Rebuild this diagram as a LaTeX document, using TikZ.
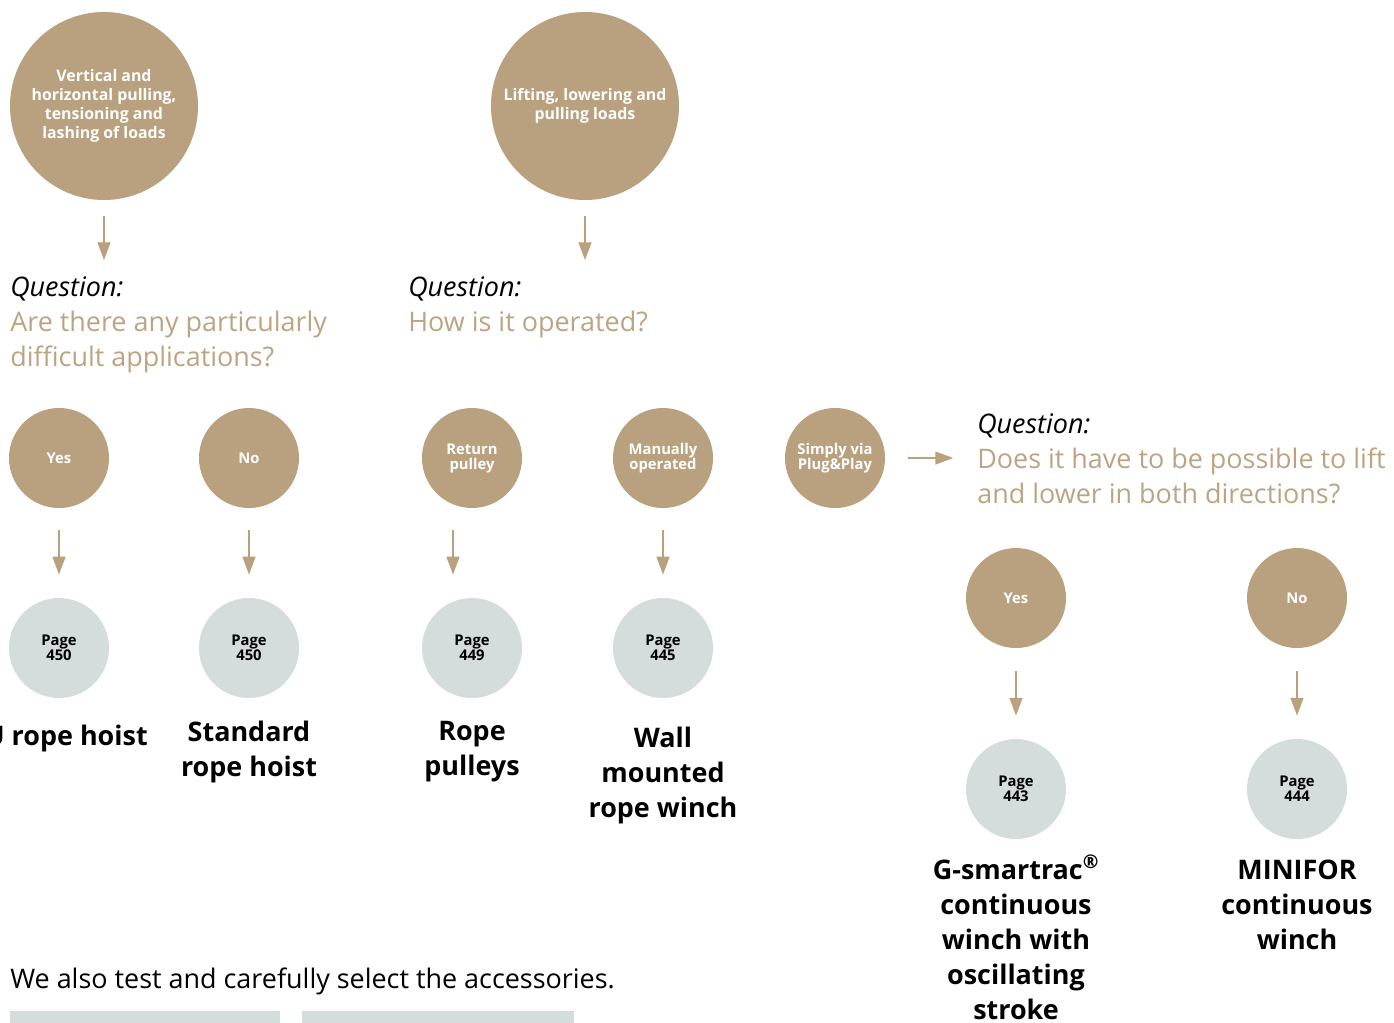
\documentclass[tikz,border=0pt]{standalone}
\usepackage{fontspec}
\setmainfont{Open Sans}
\usetikzlibrary{arrows.meta,positioning,calc}
\definecolor{tan}{HTML}{B9A07E}
\definecolor{qtan}{HTML}{BCA482}
\definecolor{pagegrey}{HTML}{D4DDDC}

\tikzset{
  topic/.style={circle, fill=tan, inner sep=0pt, minimum size=141pt, text=white, align=center,
    font=\bfseries\fontsize{11.9}{14.25}\selectfont},
  choice/.style={circle, fill=tan, inner sep=0pt, minimum size=75pt, text=white, align=center,
    font=\bfseries\fontsize{11.1}{11.25}\selectfont},
  pageref/.style={circle, fill=pagegrey, inner sep=0pt, minimum size=75pt, text=black, align=center,
    font=\bfseries\fontsize{11.1}{11.25}\selectfont},
  question/.style={anchor=base west, align=left, inner sep=0pt, text=qtan,
    font=\fontsize{20.2}{26.25}\selectfont},
  product/.style={anchor=base, align=center, inner sep=0pt, text=black,
    font=\bfseries\fontsize{20.2}{26.25}\selectfont},
  arr/.style={draw=tan, line width=1.8pt, -{Triangle[length=13.5pt,width=9.5pt]}}
}

\begin{document}
\begin{tikzpicture}[x=0.75pt, y=-0.75pt]
\useasboundingbox (0,0) rectangle (1394,1022);

% starting points
\node[topic] (pull) at (104,106) {Vertical and\\horizontal pulling,\\tensioning and\\lashing of loads};
\node[topic] (lift) at (585,106) {Lifting, lowering and\\pulling loads};

% base = last line
\node[question] (q1) at (10,366) {\textcolor{black}{\textit{Question:}}\\Are there any particularly\\difficult applications?};
\node[question] (q2) at (408,331) {\textcolor{black}{\textit{Question:}}\\How is it operated?};
\draw[arr] ($(pull.south)+(0,16)$) -- ($(pull.south)+(0,60)$);
\draw[arr] ($(lift.south)+(0,16)$) -- ($(lift.south)+(0,60)$);

% answers
\node[choice] (yes1) at (59,458) {Yes};
\node[choice] (no1) at (249,458) {No};
\node[choice] (ret) at (472,458) {Return\\pulley};
\node[choice] (man) at (663,458) {Manually\\operated};
\node[choice] (plug) at (835,458) {Simply via\\Plug\&Play};

\node[pageref] (p450a) at (59,648) {Page\\450};
\node[pageref] (p450b) at (249,648) {Page\\450};
\node[pageref] (p449) at (472,648) {Page\\449};
\node[pageref] (p445) at (663,648) {Page\\445};

\draw[arr] ($(yes1.south)+(0,22)$) -- ($(p450a.north)+(0,-23)$);
\draw[arr] ($(no1.south)+(0,22)$) -- ($(p450b.north)+(0,-23)$);
\draw[arr] ($(ret.south)+(-19,22)$) -- ($(p449.north)+(-19,-23)$);
\draw[arr] ($(man.south)+(0,22)$) -- ($(p445.north)+(0,-23)$);

\node[product, anchor=base east] (hoist) at (148,745) {U rope hoist};
\node[product] (std) at (249,776) {Standard\\rope hoist};
\node[product] (pulleys) at (472,775) {Rope\\pulleys};
\node[product] (wall) at (663,817) {Wall\\mounted\\rope winch};

% plug and play branch
\node[question] (q3) at (977,503) {\textcolor{black}{\textit{Question:}}\\Does it have to be possible to lift\\and lower in both directions?};
\draw[arr] ($(plug.east)+(23,0)$) -- ($(plug.east)+(68,0)$);

\node[choice] (yes2) at (1016,598) {Yes};
\node[choice] (no2) at (1297,598) {No};
\node[pageref] (p443) at (1016,789) {Page\\443};
\node[pageref] (p444) at (1297,789) {Page\\444};
\draw[arr] ($(yes2.south)+(0,23)$) -- ($(p443.north)+(0,-23)$);
\draw[arr] ($(no2.south)+(0,23)$) -- ($(p444.north)+(0,-23)$);

\node[product] (smart) at (1016,1019) {G-smartrac\textsuperscript{®}\\continuous\\winch with\\oscillating\\stroke};
\node[product] (minifor) at (1297,949) {MINIFOR\\continuous\\winch};

% accessories
\node[question, text=black] (acc) at (10,988) {We also test and carefully select the accessories.};
\fill[pagegrey] (10,1011) rectangle (280,1030);
\fill[pagegrey] (302,1011) rectangle (574,1030);
\end{tikzpicture}
\end{document}
